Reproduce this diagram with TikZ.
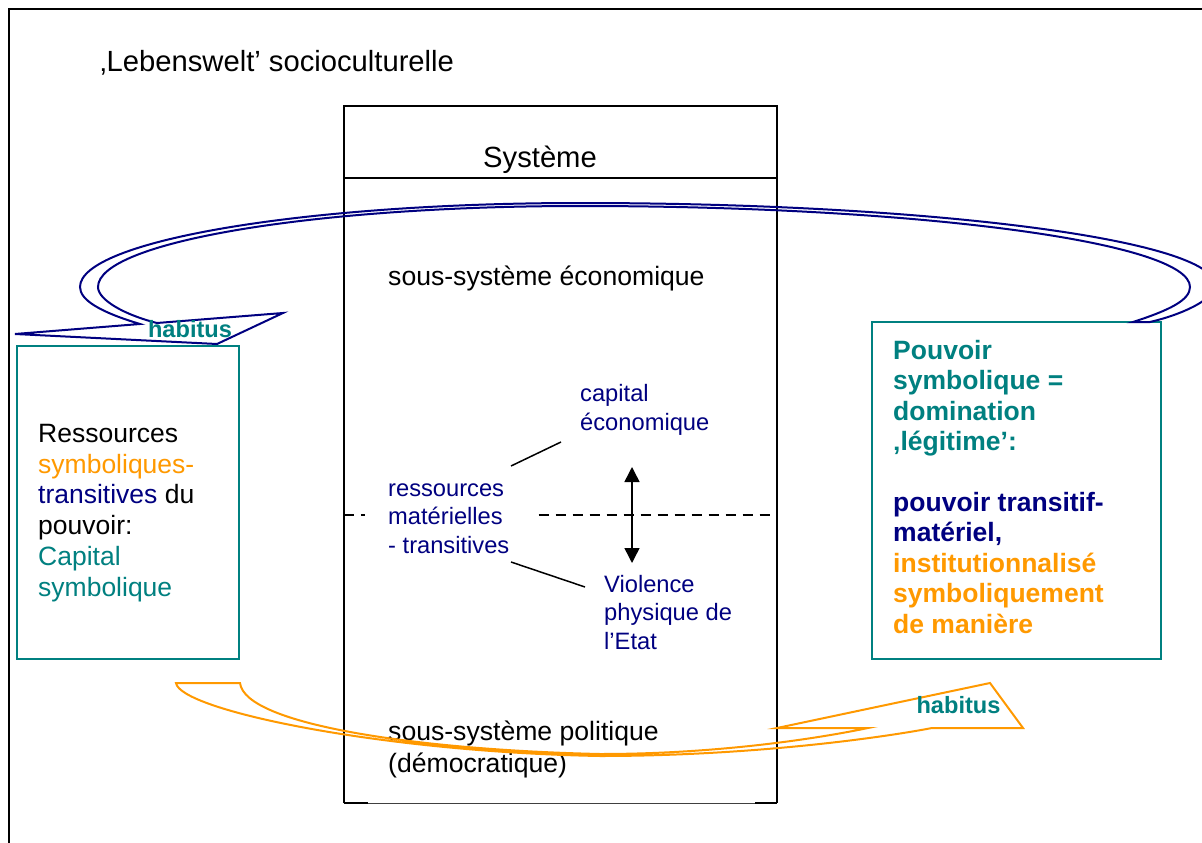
\documentclass[tikz,border=0pt]{standalone}
\usepackage{fontspec}
\setmainfont{Liberation Sans}
\usetikzlibrary{arrows.meta}
\definecolor{tealc}{RGB}{0,128,128}
\definecolor{navyc}{RGB}{0,0,128}
\definecolor{orangec}{RGB}{255,153,0}
\begin{document}
\begin{tikzpicture}[x=1pt,y=-1pt,
  txt/.style={inner sep=0pt, anchor=base west, align=left},
  maintxt/.style={txt, font=\fontsize{26.6}{31.5}\selectfont},
  bluetxt/.style={txt, text=navyc, font=\fontsize{23.7}{28.2}\selectfont},
  boxtxt/.style={txt, font=\fontsize{26.5}{30.7}\selectfont},
  boldtxt/.style={txt, font=\bfseries\fontsize{26.5}{30.4}\selectfont},
  habtxt/.style={inner sep=0pt, anchor=base, text=tealc, font=\bfseries\fontsize{23.6}{28}\selectfont},
  tealbox/.style={draw=tealc, line width=2pt, inner sep=0pt},
  thin/.style={line width=1.5pt},
  ribbon/.style={line width=2pt, line join=miter}
]
\useasboundingbox (0,0) rectangle (1202,843);
\clip (0,0) rectangle (1202,843);
\fill[white] (0,0) rectangle (1202,843);

% outer frame
\draw[line width=2pt] (9,860) -- (9,9) -- (1215,9);

\node[txt, font=\fontsize{29.2}{34}\selectfont] (lw) at (100,71) {‚Lebenswelt’ socioculturelle};

% system box
\node[inner sep=0pt, minimum width=433pt, minimum height=697pt] (sys) at (560.5,454.5) {};
\draw[thin] (sys.south west) -- (sys.north west) -- (sys.north east) -- (sys.south east);
\draw[line width=1pt, black!75] (sys.south west) -- (sys.south east);
\draw[line width=2pt] (sys.south west) -- ([xshift=24pt]sys.south west);
\draw[line width=2pt] ([xshift=-22pt]sys.south east) -- (sys.south east);
\draw[thin] (sys.west |- 0,178) -- (sys.east |- 0,178);

\node[inner sep=0pt, anchor=base, font=\fontsize{29.2}{34}\selectfont] (systeme) at (540,167) {Système};
\node[maintxt] (eco) at (388,285) {sous-système économique};
\node[maintxt] (pol) at (388,772) {sous-système politique\\(démocratique)};

\node[bluetxt] (cap) at (580,430) {capital\\économique};
\node[bluetxt] (res) at (388,553) {ressources\\matérielles\\- transitives};
\node[bluetxt] (vio) at (604,649) {Violence\\physique de\\l’Etat};

% dashed separator
\draw[thin, dash pattern=on 10pt off 7pt] (sys.west |- 0,515) -- ([xshift=-23pt]res.west |- 0,515);
\draw[thin, dash pattern=on 10pt off 7pt] ([xshift=29pt]res.east |- 0,515) -- ([xshift=-4pt]sys.east |- 0,515);

% connectors
\coordinate (r1) at (511,466);
\coordinate (c1) at (561,442);
\coordinate (r2) at (511,562);
\coordinate (v1) at (585,587);
\draw[thin] (r1) -- (c1);
\draw[thin] (r2) -- (v1);
\coordinate (aTop) at (632,467);
\coordinate (aBot) at (632,563);
\draw[thin, {Triangle[width=15pt,length=15pt]}-{Triangle[width=15pt,length=15pt]}] (aTop) -- (aBot);

% left box
\node[tealbox, minimum width=222pt, minimum height=313pt] (lbox) at (128,502.5) {};
\node[boxtxt] (ltext) at (38,596) {Ressources\\\textcolor{orangec}{symboliques-}\\\textcolor{navyc}{transitives} du\\pouvoir:\\\textcolor{tealc}{Capital}\\\textcolor{tealc}{symbolique}};

% right box
\node[tealbox, minimum width=289pt, minimum height=337pt] (rbox) at (1016.5,490.5) {};
\begin{scope}
\clip (872,322) rectangle (1161,648);
\node[boldtxt] (rtext) at (893,633) {\textcolor{tealc}{Pouvoir}\\\textcolor{tealc}{symbolique =}\\\textcolor{tealc}{domination}\\\textcolor{tealc}{‚légitime’:}\\[30.4pt]\textcolor{navyc}{pouvoir transitif-}\\\textcolor{navyc}{matériel,}\\\textcolor{orangec}{institutionnalisé}\\\textcolor{orangec}{symboliquement}\\\textcolor{orangec}{de manière}};
\end{scope}

% navy curved arrow
\draw[navyc, ribbon]
  (15,334) -- (140,324)
  .. controls (100,312) and (80,300) .. (80,287)
  .. controls (80,241) and (304,203) .. (580,203)
  .. controls (931,203) and (1215,240) .. (1215,285)
  .. controls (1215,300) and (1180,315) .. (1150,322)
  -- (1133,322)
  .. controls (1170,310) and (1190,300) .. (1190,287)
  .. controls (1190,242) and (917,206) .. (580,206)
  .. controls (314,206) and (98,242) .. (98,287)
  .. controls (98,300) and (125,315) .. (157,323)
  -- (283,313) -- (217,344) -- cycle;

% orange curved arrow
\draw[orangec, ribbon]
  (176,683) -- (240,683)
  .. controls (245,725) and (420,750) .. (600,754)
  .. controls (720,754) and (820,738) .. (868,728)
  -- (777,728) -- (990,683) -- (1023,728) -- (932,728)
  .. controls (880,738) and (750,756) .. (600,756)
  .. controls (380,752) and (180,710) .. (176,683) -- cycle;

\node[habtxt] (hab1) at (190,337) {habitus};
\node[habtxt] (hab2) at (958.5,713) {habitus};
\end{tikzpicture}
\end{document}
